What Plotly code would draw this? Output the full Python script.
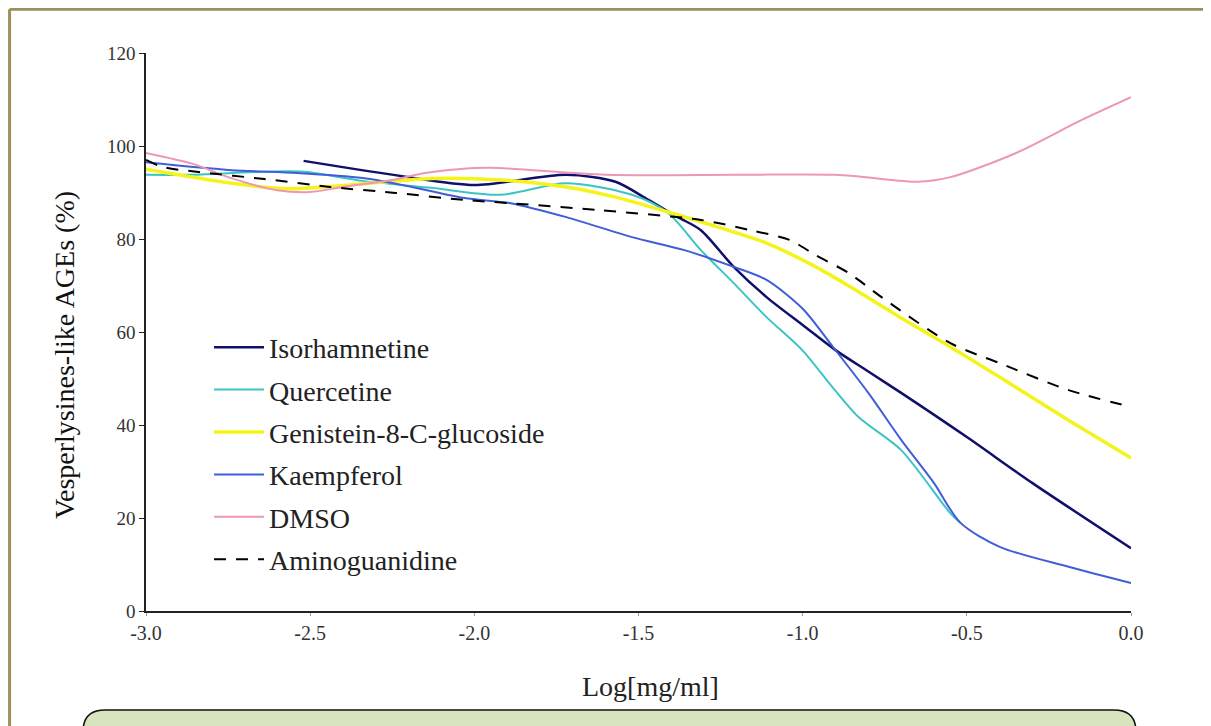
import plotly.graph_objects as go

# curves: x = log10 concentration, y = % of control
iso_x = [-2.52, -2.22, -2.0, -1.72, -1.57, -1.47, -1.38, -1.31, -1.21, -1.11, -1.0, -0.9, -0.8, -0.7, -0.5, -0.3, 0.0]
iso_y = [96.8, 93.5, 91.6, 93.8, 92.3, 88.4, 84.7, 81.9, 74.0, 67.5, 61.5, 56.1, 51.5, 46.9, 37.4, 27.5, 13.5]

quer_x = [-3.0, -2.87, -2.53, -2.34, -2.13, -1.92, -1.72, -1.52, -1.41, -1.31, -1.21, -1.11, -1.0, -0.91, -0.83, -0.7, -0.55, -0.52]
quer_y = [93.8, 93.8, 94.5, 92.5, 91.0, 89.5, 92.0, 89.5, 85.6, 77.6, 70.5, 63.2, 56.0, 48.2, 41.7, 34.6, 21.0, 19.0]

gen_x = [-3.0, -2.74, -2.56, -2.13, -1.92, -1.72, -1.57, -1.41, -1.26, -1.11, -0.96, -0.85, -0.7, -0.55, -0.4, -0.19, 0.0]
gen_y = [95.0, 92.0, 90.8, 93.0, 92.7, 91.2, 89.0, 85.8, 82.6, 79.1, 74.0, 69.5, 63.0, 56.8, 50.3, 41.0, 32.9]

kae_x = [-3.0, -2.74, -2.54, -2.34, -2.19, -2.03, -1.89, -1.72, -1.52, -1.36, -1.21, -1.11, -1.0, -0.91, -0.8, -0.7, -0.6, -0.52, -0.4, -0.19, 0.0]
kae_y = [96.5, 94.8, 94.2, 93.1, 91.2, 88.8, 87.7, 84.7, 80.4, 77.6, 74.0, 71.2, 65.0, 57.0, 46.9, 36.8, 27.5, 19.0, 13.8, 9.5, 6.0]

dmso_x = [-3.0, -2.85, -2.75, -2.6, -2.5, -2.4, -2.25, -2.15, -2.05, -1.95, -1.6, -1.2, -0.9, -0.7, -0.65, -0.55, -0.35, -0.15, 0.0]
dmso_y = [98.5, 96.0, 93.3, 90.5, 90.1, 91.2, 92.7, 94.2, 95.0, 95.3, 93.8, 93.8, 93.8, 92.5, 92.3, 93.3, 98.5, 105.6, 110.5]

amino_x = [-3.0, -2.95, -2.84, -2.64, -2.44, -2.24, -2.03, -1.89, -1.62, -1.31, -1.16, -1.04, -0.96, -0.86, -0.76, -0.55, -0.4, -0.19, 0.0]
amino_y = [97.0, 95.5, 94.4, 92.9, 91.2, 89.9, 88.4, 87.7, 86.2, 84.1, 81.9, 79.8, 76.5, 72.7, 67.5, 57.6, 53.3, 47.5, 43.9]

x_ticks = [-3.0, -2.5, -2.0, -1.5, -1.0, -0.5, 0.0]
x_ticktext = ["-3.0", "-2.5", "-2.0", "-1.5", "-1.0", "-0.5", "0.0"]
y_ticks = [0, 20, 40, 60, 80, 100, 120]
y_ticktext = ["0", "20", "40", "60", "80", "100", "120"]

series = [
    ("Isorhamnetine", iso_x, iso_y, "#10106a", 2.5, "solid"),
    ("Quercetine", quer_x, quer_y, "#3cc4c4", 2, "solid"),
    ("Genistein-8-C-glucoside", gen_x, gen_y, "#f4f41c", 3.5, "solid"),
    ("Kaempferol", kae_x, kae_y, "#3f5ed8", 2, "solid"),
    ("DMSO", dmso_x, dmso_y, "#ec97b8", 2, "solid"),
    ("Aminoguanidine", amino_x, amino_y, "#000000", 2, "12px,10px"),
]

fig = go.Figure()
for i, (name, xs, ys, col, w, dash) in enumerate(series):
    fig.add_trace(go.Scatter(
        x=xs, y=ys, name=name, mode="lines", legendgroup=str(i),
        line=dict(color=col, width=w, dash=dash, shape="spline", smoothing=0.8),
    ))

serif = "Liberation Serif"

# page body adds 8px margin, so the figure is 8px smaller than the window
fig.update_layout(
    width=1203, height=718,
    margin=dict(l=138, r=80, t=45, b=115),
    paper_bgcolor="white", plot_bgcolor="white",
    font=dict(family=serif, color="#222"),
    showlegend=True,
    legend=dict(
        x=0.064, y=0.517, xanchor="left", yanchor="top",
        bgcolor="rgba(0,0,0,0)", font=dict(size=28, family=serif, color="#222"),
        traceorder="grouped", tracegroupgap=3, itemwidth=50,
    ),
)

fig.update_xaxes(
    range=[-3, 0], tickvals=x_ticks, ticktext=x_ticktext,
    showline=True, linecolor="#222", linewidth=1.5,
    ticks="outside", ticklen=3, tickcolor="#999",
    showgrid=False, zeroline=False,
    tickfont=dict(size=20, family=serif, color="#333"),
)
fig.update_yaxes(
    range=[0, 120], tickvals=y_ticks, ticktext=y_ticktext,
    showline=True, linecolor="#222", linewidth=1.5,
    ticks="outside", ticklen=5, tickcolor="#222",
    showgrid=False, zeroline=False,
    tickfont=dict(size=19, family=serif, color="#333"),
)

# axis titles
fig.add_annotation(
    text="Log[mg/ml]", xref="paper", yref="paper", x=0.512, y=-0.135,
    xanchor="center", yanchor="middle",
    showarrow=False, font=dict(size=28, family=serif, color="#222"),
)
fig.add_annotation(
    text="Vesperlysines-like AGEs (%)", xref="paper", yref="paper",
    x=-0.082, y=0.459, xanchor="center", yanchor="middle", textangle=-90, showarrow=False,
    font=dict(size=28, family=serif, color="#111"),
)

# frame: olive border on top and left, green rounded box at the bottom
olive = "#9b8f5e"
fig.add_shape(type="line", xref="paper", yref="paper", x0=-0.1385, x1=1.1, y0=1.0785, y1=1.0785,
              line=dict(color=olive, width=3))
fig.add_shape(type="line", xref="paper", yref="paper", x0=-0.1385, x1=-0.1385, y0=1.0785, y1=-0.3,
              line=dict(color=olive, width=3))

x0, x1, ytop, ybot = -0.064, 1.0051, -0.1774, -0.25
dx, dy = 0.0223, 0.0394
box = (f"M {x0},{ybot} L {x0},{ytop - dy} Q {x0},{ytop} {x0 + dx},{ytop} "
       f"L {x1 - dx},{ytop} Q {x1},{ytop} {x1},{ytop - dy} L {x1},{ybot} Z")
fig.add_shape(type="path", xref="paper", yref="paper", path=box,
              fillcolor="#d7e4bd", line=dict(color="#111", width=1.5))

fig.write_html("out.html")
